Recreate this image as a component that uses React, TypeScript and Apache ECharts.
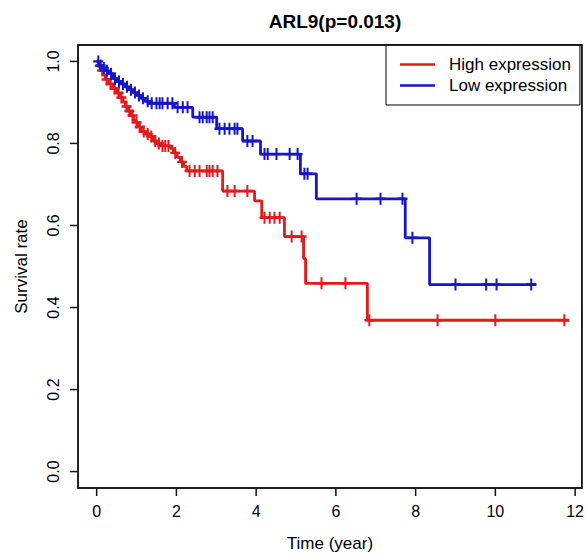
import React, { useEffect, useRef } from "react";
import * as echarts from "echarts";

const TITLE = "ARL9(p=0.013)";
const X_NAME = "Time (year)";
const Y_NAME = "Survival rate";
const X_TICKS = [0, 2, 4, 6, 8, 10, 12];
const Y_TICKS = [0, 0.2, 0.4, 0.6, 0.8, 1.0];
const GROUPS = ["High expression", "Low expression"];
const COLORS = ["#E01B1B", "#1616C8"];

// Kaplan-Meier steps: [time, survival after event]
const HIGH_STEPS: [number, number][] = [
  [0, 1], [0.05, 0.989], [0.1, 0.978], [0.16, 0.967], [0.22, 0.956], [0.3, 0.945],
  [0.4, 0.934], [0.5, 0.923], [0.58, 0.912], [0.66, 0.901], [0.72, 0.89], [0.78, 0.879],
  [0.85, 0.868], [0.92, 0.857], [0.99, 0.851], [1.05, 0.84], [1.12, 0.829], [1.22, 0.823],
  [1.32, 0.817], [1.42, 0.806], [1.52, 0.8], [1.6, 0.794], [1.85, 0.788], [1.92, 0.777],
  [2.02, 0.766], [2.1, 0.755], [2.18, 0.744], [2.26, 0.733], [3.16, 0.684], [3.96, 0.66],
  [4.14, 0.619], [4.71, 0.573], [5.19, 0.519], [5.24, 0.459], [6.79, 0.369],
];
const HIGH_END = 11.85;
const HIGH_CENSOR = [
  0.08, 0.14, 0.25, 0.35, 0.45, 0.55, 0.62, 0.75, 0.82, 0.9, 1.0, 1.08, 1.18, 1.28, 1.37,
  1.47, 1.56, 1.65, 1.72, 1.8, 1.97, 2.14, 2.33, 2.46, 2.58, 2.76, 2.83, 2.91, 3.03, 3.28,
  3.46, 3.78, 4.21, 4.34, 4.46, 4.59, 4.89, 5.14, 5.64, 6.24, 6.84, 8.55, 10.0, 11.73,
];

const LOW_STEPS: [number, number][] = [
  [0, 1], [0.06, 0.99], [0.14, 0.984], [0.22, 0.977], [0.32, 0.97], [0.42, 0.958],
  [0.52, 0.951], [0.62, 0.945], [0.72, 0.938], [0.82, 0.931], [0.92, 0.924], [1.02, 0.917],
  [1.12, 0.91], [1.2, 0.903], [1.3, 0.898], [1.95, 0.888], [2.41, 0.864], [3.01, 0.836],
  [3.66, 0.806], [4.11, 0.774], [5.11, 0.726], [5.51, 0.665], [7.74, 0.57], [8.35, 0.456],
];
const LOW_END = 11.03;
const LOW_CENSOR = [
  0.04, 0.1, 0.18, 0.26, 0.36, 0.46, 0.56, 0.66, 0.76, 0.86, 0.96, 1.06, 1.16, 1.28, 1.38,
  1.5, 1.58, 1.65, 1.78, 1.9, 2.03, 2.16, 2.28, 2.58, 2.66, 2.76, 2.83, 2.91, 3.08, 3.21,
  3.33, 3.46, 3.53, 3.78, 3.91, 4.21, 4.29, 4.51, 4.84, 5.04, 5.21, 5.29, 6.52, 7.12, 7.67,
  7.92, 9.0, 9.77, 10.03, 10.9,
];

const FONT = "Liberation Sans, Arial, Helvetica, sans-serif";
const PLUS = "path://M4,0H6V4H10V6H6V10H4V6H0V4H4Z";
const X_MIN = -0.468;
const X_MAX = 12.17;
const Y_MIN = -0.04;
const Y_MAX = 1.04;
const TICK_LEN = 8;
const TICK_W = 1.5;

function survAt(steps: [number, number][], t: number): number {
  let s = 1;
  for (const [tt, v] of steps) {
    if (tt <= t) s = v;
  }
  return s;
}

function lineData(steps: [number, number][], end: number) {
  return [...steps.map((p) => [p[0], p[1]]), [end, steps[steps.length - 1][1]]];
}

function censorData(steps: [number, number][], times: number[]) {
  return times.map((t) => [t, survAt(steps, t)]);
}

export default function App() {
  const ref = useRef<HTMLDivElement>(null);
  useEffect(() => {
    if (!ref.current) return;
    const chart = echarts.init(ref.current, undefined, { renderer: "svg" });
    const groups = [
      { steps: HIGH_STEPS, end: HIGH_END, censor: HIGH_CENSOR },
      { steps: LOW_STEPS, end: LOW_END, censor: LOW_CENSOR },
    ];
    const series: any[] = [];
    groups.forEach((g, i) => {
      series.push({
        name: GROUPS[i],
        type: "line",
        step: "end",
        data: lineData(g.steps, g.end),
        showSymbol: false,
        symbol: "none",
        lineStyle: { color: COLORS[i], width: 2.8 },
        itemStyle: { color: COLORS[i] },
        z: 2 + i * 2,
      });
      series.push({
        name: GROUPS[i] + " censored",
        type: "scatter",
        data: censorData(g.steps, g.censor),
        symbol: PLUS,
        symbolSize: [10, 12],
        itemStyle: { color: COLORS[i], opacity: 1 },
        z: 3 + i * 2,
      });
    });
    // Outward axis ticks, placed through the axes' own scales
    series.push({
      name: "x ticks",
      type: "scatter",
      clip: false,
      silent: true,
      data: X_TICKS.map((v) => [v, Y_MIN]),
      symbol: "rect",
      symbolSize: [TICK_W, TICK_LEN],
      symbolOffset: [0, TICK_LEN / 2],
      itemStyle: { color: "#111", opacity: 1 },
      z: 10,
    });
    series.push({
      name: "y ticks",
      type: "scatter",
      clip: false,
      silent: true,
      data: Y_TICKS.map((v) => [X_MIN, v]),
      symbol: "rect",
      symbolSize: [TICK_LEN, TICK_W],
      symbolOffset: [-TICK_LEN / 2, 0],
      itemStyle: { color: "#111", opacity: 1 },
      z: 10,
    });
    chart.setOption({
      animation: false,
      backgroundColor: "#fff",
      title: {
        text: TITLE,
        left: 330,
        top: 7,
        textAlign: "center",
        textStyle: { fontSize: 19, fontWeight: "bold", color: "#000", fontFamily: FONT },
      },
      legend: {
        orient: "vertical",
        left: 386,
        top: 45,
        data: GROUPS.map((n) => ({ name: n, icon: "rect" })),
        itemWidth: 35,
        itemHeight: 2.5,
        itemGap: 4,
        padding: [11, 9, 11, 14],
        borderColor: "#000",
        borderWidth: 1,
        backgroundColor: "#fff",
        textStyle: { fontSize: 17, color: "#000", fontFamily: FONT, padding: [0, 0, 0, 9] },
        z: 10,
      },
      grid: {
        left: 78,
        right: 4,
        top: 45,
        bottom: 68,
        containLabel: false,
        show: true,
        borderColor: "#111",
        borderWidth: 1.4,
        backgroundColor: "transparent",
      },
      xAxis: {
        type: "value",
        min: X_MIN,
        max: X_MAX,
        name: X_NAME,
        nameLocation: "middle",
        nameGap: 47,
        nameTextStyle: { fontSize: 17, color: "#000", fontFamily: FONT },
        axisLine: { show: false, onZero: false },
        splitLine: { show: false },
        axisTick: { show: false },
        axisLabel: {
          customValues: X_TICKS,
          fontSize: 16,
          color: "#000",
          fontFamily: FONT,
          margin: 15,
          formatter: (v: number) => String(v),
        },
      },
      yAxis: {
        type: "value",
        min: Y_MIN,
        max: Y_MAX,
        name: Y_NAME,
        nameLocation: "middle",
        nameGap: 48,
        nameTextStyle: { fontSize: 17, color: "#000", fontFamily: FONT },
        axisLine: { show: false, onZero: false },
        splitLine: { show: false },
        axisTick: { show: false },
        axisLabel: {
          customValues: Y_TICKS,
          rotate: 90,
          fontSize: 16,
          color: "#000",
          fontFamily: FONT,
          margin: 17,
          formatter: (v: number) => v.toFixed(1),
        },
      },
      series,
    });

    // Frame, positioned through the chart's own scales
    const tl = chart.convertToPixel({ gridIndex: 0 }, [X_MIN, Y_MAX]) as number[];
    const br = chart.convertToPixel({ gridIndex: 0 }, [X_MAX, Y_MIN]) as number[];
    chart.setOption({
      graphic: [
        {
          type: "rect",
          shape: { x: tl[0], y: tl[1], width: br[0] - tl[0], height: br[1] - tl[1] },
          style: { fill: "none", stroke: "#111", lineWidth: 1.4 },
          z: 20,
          silent: true,
        },
      ],
    });
    return () => chart.dispose();
  }, []);
  return (
    <div
      ref={ref}
      style={{ position: "fixed", left: 0, top: 0, width: 587, height: 557, background: "#fff" }}
    />
  );
}
